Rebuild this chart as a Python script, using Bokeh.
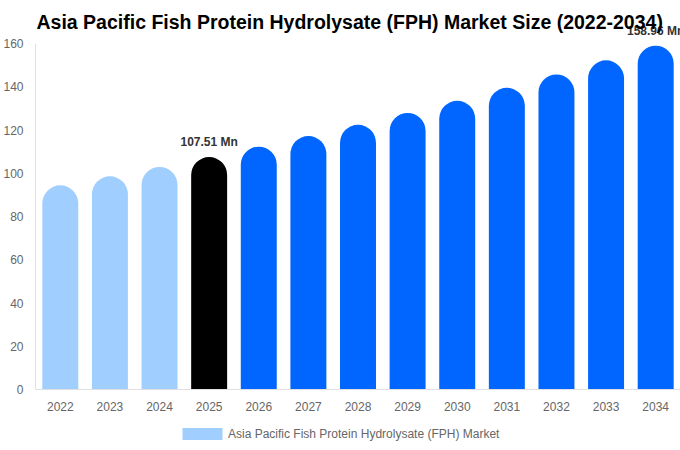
from bokeh.plotting import figure
from bokeh.models import (ColumnDataSource, Range1d, FixedTicker, LabelSet, Label,
                          Legend, LegendItem)
from bokeh.layouts import column
from bokeh.core.properties import value
from bokeh.embed import file_html
from bokeh.resources import INLINE

# ---- data ----
years = ["2022", "2023", "2024", "2025", "2026", "2027", "2028",
         "2029", "2030", "2031", "2032", "2033", "2034"]
values = [94.4, 98.6, 102.9, 107.51, 112.3, 117.2, 122.4,
          127.9, 133.5, 139.5, 145.7, 152.2, 158.96]
bar_colors = ["#a0cfff"] * 3 + ["#000000"] + ["#0066ff"] * 9
labeled_years = ["2025", "2034"]
label_texts = ["107.51 Mn", "158.96 Mn"]
y_ticks = [0, 20, 40, 60, 80, 100, 120, 140, 160]
title_text = "Asia Pacific Fish Protein Hydrolysate (FPH) Market Size (2022-2034)"
series_name = "Asia Pacific Fish Protein Hydrolysate (FPH) Market"

FONT = "Liberation Sans"

src = ColumnDataSource(dict(year=years, value=values, color=bar_colors))
lab_src = ColumnDataSource(dict(
    year=labeled_years,
    value=[values[years.index(y)] for y in labeled_years],
    text=label_texts,
))

# frame: 389 px tall, 160 placed 43 px below its top
Y_TOP = 160 + 43 * 160 / 346

p = figure(x_range=years, y_range=Range1d(0, Y_TOP), width=680, height=418,
           title=None, output_backend="svg", toolbar_location=None,
           min_border_left=35, min_border_right=0,
           min_border_top=0, min_border_bottom=29)

r = p.vbar(x="year", top="value", width=0.725, source=src,
           fill_color="color", line_color=None,
           border_radius=(18, 18, 0, 0))

labels = LabelSet(x="year", y="value", text="text", source=lab_src,
                  text_align="center", text_baseline="bottom", y_offset=8,
                  text_font=value(FONT), text_font_size="12px",
                  text_font_style="bold", text_color="#333333")
p.add_layout(labels)

# chart title (kept inside the plotting area so it can overlap the last label)
title = Label(x=1, y=368, x_units="screen", y_units="screen",
              text=title_text, text_align="left", text_baseline="middle",
              text_font=FONT, text_font_size="19.5px", text_font_style="bold",
              text_color="#000000")
p.add_layout(title)

# axes
for ax in (p.xaxis, p.yaxis):
    ax.axis_line_color = "#e0e0e0"
    ax.major_tick_line_color = None
    ax.minor_tick_line_color = None
    ax.major_tick_out = 0
    ax.major_tick_in = 0
    ax.minor_tick_out = 0
    ax.minor_tick_in = 0
    ax.major_label_text_font = FONT
    ax.major_label_text_font_size = "12px"
    ax.major_label_text_color = "#666666"
p.yaxis.ticker = FixedTicker(ticks=y_ticks)
p.yaxis.bounds = (0, 160)
p.yaxis.major_label_standoff = 12
p.xaxis.major_label_standoff = 12

p.xgrid.grid_line_color = None
p.ygrid.grid_line_color = None
p.outline_line_color = None

# legend strip below the chart
p2 = figure(x_range=years, y_range=Range1d(0, 1), width=680, height=32,
            title=None, output_backend="svg", toolbar_location=None,
            min_border_left=35, min_border_right=0, min_border_top=0,
            min_border_bottom=0, x_axis_location=None, y_axis_location=None)
p2.xgrid.grid_line_color = None
p2.ygrid.grid_line_color = None
p2.outline_line_color = None
r2 = p2.vbar(x="year", top="value", width=0.725, source=src,
             fill_color="color", line_color=None, visible=False)
legend = Legend(items=[LegendItem(label=series_name, renderers=[r2], index=0)],
                orientation="horizontal", location=(142, 9),
                border_line_color=None, background_fill_alpha=0,
                glyph_width=50, glyph_height=15, label_standoff=1,
                label_text_font=FONT, label_text_font_size="12px",
                label_text_color="#666666", padding=0, margin=0,
                inactive_fill_alpha=0)
p2.add_layout(legend)

open("out.html", "w").write(file_html(column(p, p2, spacing=0), INLINE))
